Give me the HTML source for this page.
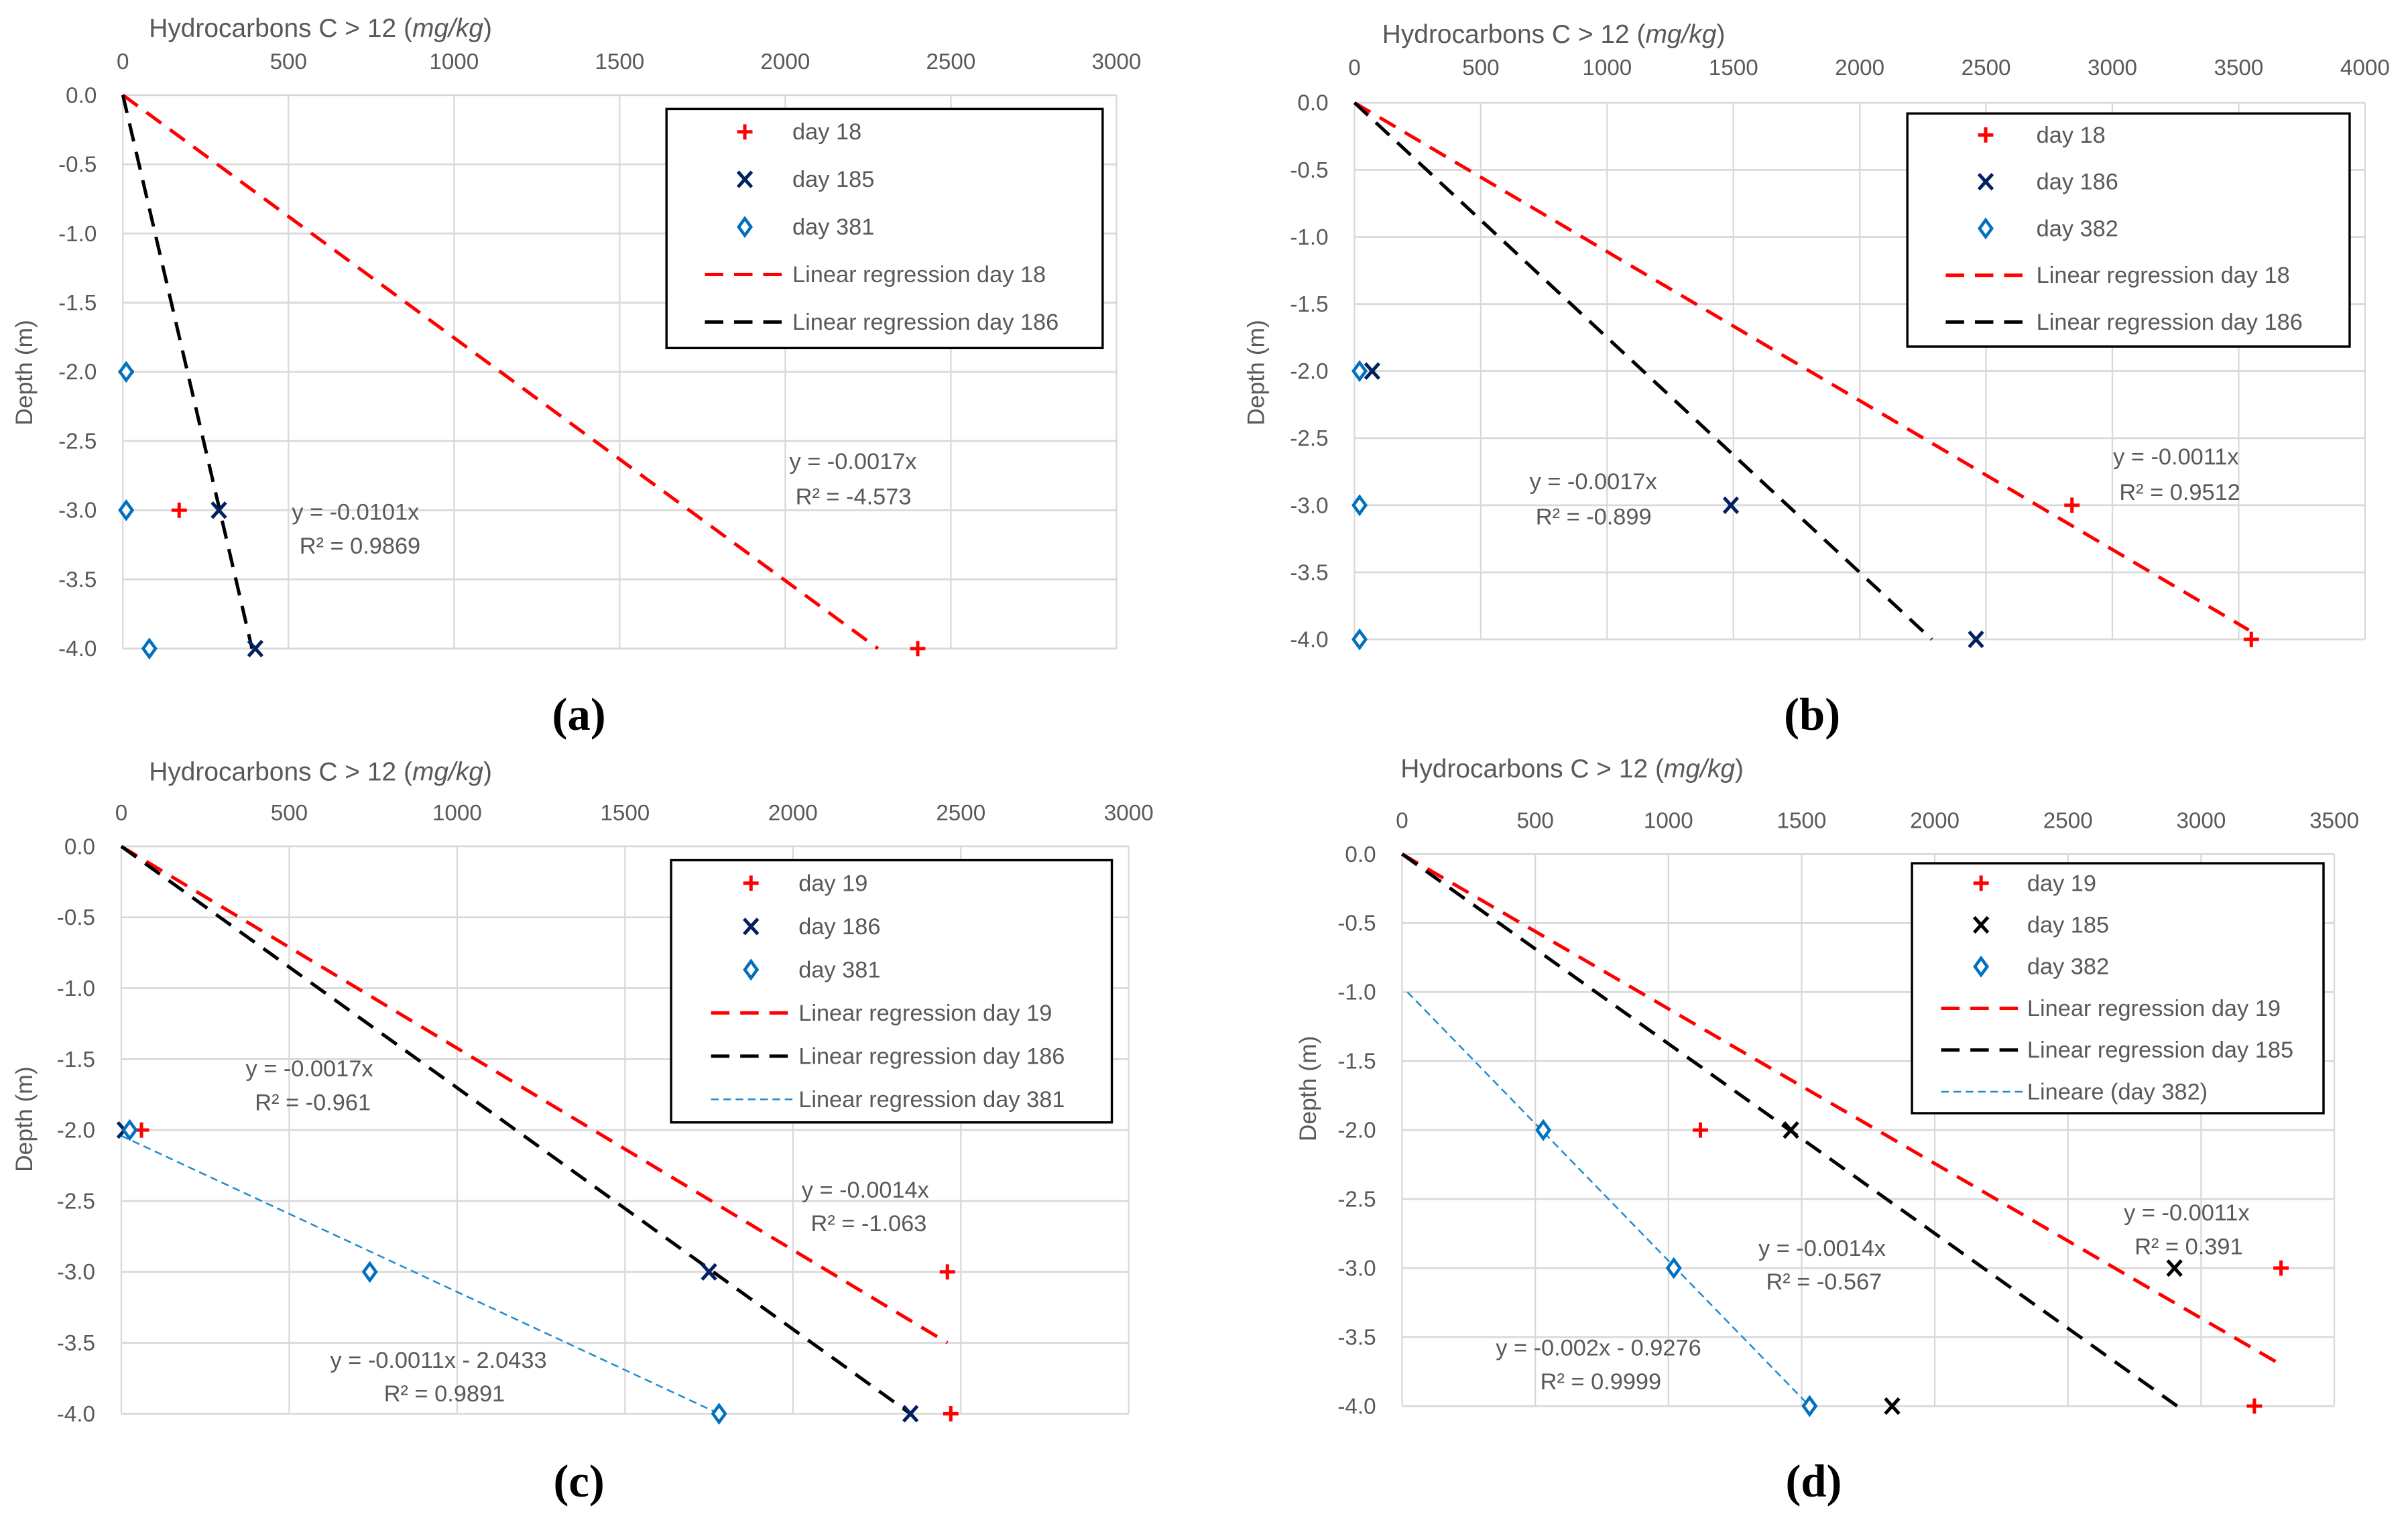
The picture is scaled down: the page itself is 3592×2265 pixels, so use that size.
<!DOCTYPE html>
<html><head><meta charset="utf-8"><style>
html,body{margin:0;padding:0;background:#fff;}
svg{display:block;}
text{font-family:"Liberation Sans Narrow","Liberation Sans",sans-serif;fill:#595959;}
.lab{font-family:"Liberation Serif",serif;font-weight:bold;fill:#000;}
</style></head><body>
<svg id="fig" width="3592" height="2265" viewBox="0 0 1568 990" preserveAspectRatio="none" xmlns="http://www.w3.org/2000/svg"></svg>
<script>
// ---- Panel (a) ----
const aXTicks=[0,500,1000,1500,2000,2500,3000];
const aYTicks=[0,-0.5,-1,-1.5,-2,-2.5,-3,-3.5,-4];
const aS1x=[10,170,2400], aS1y=[-2,-3,-4];
const aS2x=[290,400], aS2y=[-3,-4];
const aS3x=[10,10,80], aS3y=[-2,-3,-4];
const aF1x=[0,2280], aF1y=[0,-4];
const aF2x=[0,390], aF2y=[0,-4];
const aLegend=["day 18","day 185","day 381","Linear regression day 18","Linear regression day 186"];
const aNotes=["y = -0.0101x","R² = 0.9869","y = -0.0017x","R² = -4.573"];
// ---- Panel (b) ----
const bXTicks=[0,500,1000,1500,2000,2500,3000,3500,4000];
const bYTicks=[0,-0.5,-1,-1.5,-2,-2.5,-3,-3.5,-4];
const bS1x=[2840,3550], bS1y=[-3,-4];
const bS2x=[70,1490,2460], bS2y=[-2,-3,-4];
const bS3x=[20,20,20], bS3y=[-2,-3,-4];
const bF1x=[0,3540], bF1y=[0,-3.93];
const bF2x=[0,2285], bF2y=[0,-4];
const bLegend=["day 18","day 186","day 382","Linear regression day 18","Linear regression day 186"];
const bNotes=["y = -0.0017x","R² = -0.899","y = -0.0011x","R² = 0.9512"];
// ---- Panel (c) ----
const cXTicks=[0,500,1000,1500,2000,2500,3000];
const cYTicks=[0,-0.5,-1,-1.5,-2,-2.5,-3,-3.5,-4];
const cS1x=[60,2460,2470], cS1y=[-2,-3,-4];
const cS2x=[10,1750,2350], cS2y=[-2,-3,-4];
const cS3x=[25,740,1780], cS3y=[-2,-3,-4];
const cF1x=[0,2460], cF1y=[0,-3.5];
const cF2x=[0,2350], cF2y=[0,-4];
const cF3x=[0,1780], cF3y=[-2.04,-4];
const cLegend=["day 19","day 186","day 381","Linear regression day 19","Linear regression day 186","Linear regression day 381"];
const cNotes=["y = -0.0017x","R² = -0.961","y = -0.0014x","R² = -1.063","y = -0.0011x - 2.0433","R² = 0.9891"];
// ---- Panel (d) ----
const dXTicks=[0,500,1000,1500,2000,2500,3000,3500];
const dYTicks=[0,-0.5,-1,-1.5,-2,-2.5,-3,-3.5,-4];
const dS1x=[1120,3300,3200], dS1y=[-2,-3,-4];
const dS2x=[1460,2900,1840], dS2y=[-2,-3,-4];
const dS3x=[530,1020,1530], dS3y=[-2,-3,-4];
const dF1x=[0,3300], dF1y=[0,-3.7];
const dF2x=[0,2910], dF2y=[0,-4];
const dF3x=[20,1530], dF3y=[-1,-4];
const dLegend=["day 19","day 185","day 382","Linear regression day 19","Linear regression day 185","Lineare (day 382)"];
const dNotes=["y = -0.0014x","R² = -0.567","y = -0.0011x","R² = 0.391","y = -0.002x - 0.9276","R² = 0.9999"];

const NS="http://www.w3.org/2000/svg";
const svg=document.getElementById('fig');
function mk(tag,attrs,parent,txt){const e=document.createElementNS(NS,tag);for(const k in attrs)e.setAttribute(k,attrs[k]);if(txt!==undefined)e.textContent=txt;parent.appendChild(e);return e;}

function marker(g,kind,cx,cy,color){
  if(kind==='plus'){mk('path',{d:`M${cx-5} ${cy}H${cx+5}M${cx} ${cy-5}V${cy+5}`,stroke:color,'stroke-width':2.2},g);}
  else if(kind==='x'){mk('path',{d:`M${cx-4.5} ${cy-5}L${cx+4.5} ${cy+5}M${cx+4.5} ${cy-5}L${cx-4.5} ${cy+5}`,stroke:color,'stroke-width':2.2},g);}
  else {mk('path',{d:`M${cx} ${cy-5.5}L${cx+4} ${cy}L${cx} ${cy+5.5}L${cx-4} ${cy}Z`,stroke:color,'stroke-width':2,fill:'#fff'},g);}
}

function panel(P){
  const g=mk('g',{},svg);
  
  
  const xMax=P.xt[P.xt.length-1];
  const X=v=>P.x0+(v/xMax)*(P.x1-P.x0);
  const Y=v=>P.y0+(v/-4)*(P.y1-P.y0);
  // grid
  const grid=mk('g',{},g);
  
  
  P.xt.forEach(t=>{mk('line',{x1:X(t),x2:X(t),y1:P.y0,y2:P.y1,stroke:'#d9d9d9','stroke-width':1},grid);});
  P.yt.forEach(t=>{mk('line',{x1:P.x0,x2:P.x1,y1:Y(t),y2:Y(t),stroke:'#d9d9d9','stroke-width':1.2},grid);});
  // tick labels
  P.xt.forEach(t=>{const e=mk('text',{x:X(t),y:P.xly,'font-size':14.5,'text-anchor':'middle'},g,String(t));
    
    });
  P.yt.forEach(t=>{const e=mk('text',{x:P.x0-17,y:Y(t)+5,'font-size':14.5,'text-anchor':'end'},g,t.toFixed(1));
    
    });
  // titles
  const xt=mk('text',{x:P.tx,y:P.ty,'font-size':17},g);
  
  
  xt.innerHTML='Hydrocarbons C &gt; 12 (<tspan font-style="italic">mg/kg</tspan>)';
  const yt=mk('text',{x:0,y:0,'font-size':15.5,'text-anchor':'middle',transform:`translate(${P.dtx},${P.dty}) rotate(-90)`,style:'font-family:"Liberation Sans",sans-serif'},g,'Depth (m)');
  
  
  // fits
  const fitStyle=[{c:'#ff0000',w:2.2,d:'12 7'},{c:'#000',w:2.2,d:'12 7'},{c:'#1f8ccf',w:1.1,d:'5 3'}];
  P.fits.forEach((f,i)=>{const s=fitStyle[i];
    const l=mk('line',{x1:X(f[0][0]),y1:Y(f[1][0]),x2:X(f[0][1]),y2:Y(f[1][1]),stroke:s.c,'stroke-width':s.w,'stroke-dasharray':s.d},g);
    
    });
  // series
  const kinds=['plus','x','diamond'];const cols=['#ff0000',P.xcol,'#0070c0'];
  P.series.forEach((s,i)=>{const sg=mk('g',{},g);
    
    
    s[0].forEach((v,j)=>marker(sg,kinds[i],X(v),Y(s[1][j]),cols[i]));});
  // notes
  P.notes.forEach((n,i)=>{const e=mk('text',{x:P.np[i][0],y:P.np[i][1],'font-size':15},g,n);
    
    });
  // legend
  const L=P.leg;const lg=mk('g',{},g);
  
  
  mk('rect',{x:L.x,y:L.y,width:L.w,height:L.h,fill:'#fff',stroke:'#000','stroke-width':1.5},lg);
  P.legend.forEach((t,i)=>{const cy=L.r0+i*L.dr;
    if(i<3)marker(lg,kinds[i],L.mx,cy,cols[i]);
    else{const s=fitStyle[i-3];mk('line',{x1:L.mx-26,x2:L.mx+28,y1:cy,y2:cy,stroke:s.c,'stroke-width':s.w,'stroke-dasharray':s.d},lg);}
    const e=mk('text',{x:L.tx,y:cy+5,'font-size':15},lg,t);
    
    });
  const lab=mk('text',{x:P.lx,y:P.ly,'font-size':30,'text-anchor':'middle',class:'lab'},g,'('+P.id+')');
  
  
}

panel({id:'a',x0:80,x1:727,y0:62,y1:423,xt:aXTicks,yt:aYTicks,xly:45,tx:97,ty:24,dtx:21,dty:243,xcol:'#002060',
  series:[[aS1x,aS1y],[aS2x,aS2y],[aS3x,aS3y]],fits:[[aF1x,aF1y],[aF2x,aF2y]],
  notes:aNotes,np:[[190,339],[195,361],[514,306],[518,329]],
  legend:aLegend,leg:{x:434,y:71,w:284,h:156,r0:86,dr:31,mx:485,tx:516},lx:377,ly:476});
panel({id:'b',x0:882,x1:1540,y0:67,y1:417,xt:bXTicks,yt:bYTicks,xly:49,tx:900,ty:28,dtx:823,dty:243,xcol:'#002060',
  series:[[bS1x,bS1y],[bS2x,bS2y],[bS3x,bS3y]],fits:[[bF1x,bF1y],[bF2x,bF2y]],
  notes:bNotes,np:[[996,319],[1000,342],[1376,303],[1380,326]],
  legend:bLegend,leg:{x:1242,y:74,w:288,h:152,r0:88,dr:30.5,mx:1293,tx:1326},lx:1180,ly:476});
panel({id:'c',x0:79,x1:735,y0:552,y1:922,xt:cXTicks,yt:cYTicks,xly:535,tx:97,ty:509,dtx:21,dty:730,xcol:'#002060',
  series:[[cS1x,cS1y],[cS2x,cS2y],[cS3x,cS3y]],fits:[[cF1x,cF1y],[cF2x,cF2y],[cF3x,cF3y]],
  notes:cNotes,np:[[160,702],[166,724],[522,781],[528,803],[215,892],[250,914]],
  legend:cLegend,leg:{x:437,y:561,w:287,h:171,r0:576,dr:28.2,mx:489,tx:520},lx:377,ly:976});
panel({id:'d',x0:913,x1:1520,y0:557,y1:917,xt:dXTicks,yt:dYTicks,xly:540,tx:912,ty:507,dtx:857,dty:710,xcol:'#000000',
  series:[[dS1x,dS1y],[dS2x,dS2y],[dS3x,dS3y]],fits:[[dF1x,dF1y],[dF2x,dF2y],[dF3x,dF3y]],
  notes:dNotes,np:[[1145,819],[1150,841],[1383,796],[1390,818],[974,884],[1003,906]],
  legend:dLegend,leg:{x:1245,y:563,w:268,h:163,r0:576,dr:27.2,mx:1290,tx:1320},lx:1181,ly:976});
</script>
</body></html>
